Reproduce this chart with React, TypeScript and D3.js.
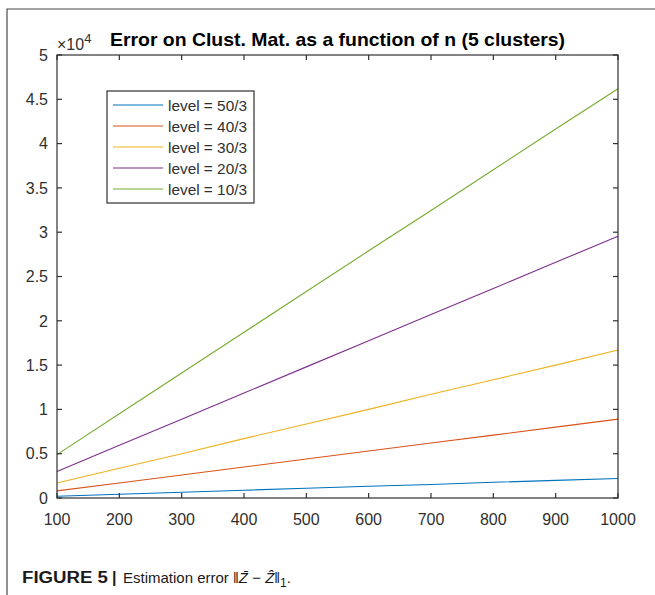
import React, { useEffect, useRef } from "react";
import * as d3 from "d3";

// n values (x axis)
const nValues = [100, 200, 300, 400, 500, 600, 700, 800, 900, 1000];

// error values (raw, axis shows x10^4)
const level50 = [200, 420, 650, 880, 1100, 1320, 1530, 1770, 1990, 2200];
const level40 = [800, 1700, 2600, 3500, 4400, 5300, 6200, 7100, 8000, 8900];
const level30 = [1700, 3350, 5000, 6700, 8350, 10000, 11700, 13350, 15000, 16700];
const level20 = [3000, 5950, 8900, 11850, 14800, 17750, 20700, 23650, 26600, 29550];
const level10 = [4900, 9500, 14100, 18700, 23300, 27900, 32450, 37050, 41650, 46200];

const seriesNames = ["level = 50/3", "level = 40/3", "level = 30/3", "level = 20/3", "level = 10/3"];
const seriesColors = ["#0072BD", "#D95319", "#EDB120", "#7E2F8E", "#77AC30"];
const seriesValues = [level50, level40, level30, level20, level10];

const yTicks = [0, 5000, 10000, 15000, 20000, 25000, 30000, 35000, 40000, 45000, 50000];

const W = 655;
const H = 595;
const axisColor = "#303030";
const font = "'Liberation Sans', Arial, Helvetica, sans-serif";

export default function App() {
  const ref = useRef<SVGSVGElement>(null);

  useEffect(() => {
    const svg = d3.select(ref.current);
    svg.selectAll("*").remove();

    const x = d3.scaleLinear().domain([100, 1000]).range([57, 618]);
    const y = d3.scaleLinear().domain([0, 50000]).range([498, 55]);

    // figure frame (top and left rule)
    svg.append("path")
      .attr("d", `M7,${H} V9 H${W}`)
      .attr("fill", "none")
      .attr("stroke", "#4a4a4a")
      .attr("stroke-width", 1.2);

    // title
    svg.append("text")
      .attr("x", 110)
      .attr("y", 46)
      .attr("font-family", font)
      .attr("font-weight", "bold")
      .attr("font-size", 19)
      .attr("textLength", 455)
      .attr("lengthAdjust", "spacingAndGlyphs")
      .attr("fill", "#000")
      .text("Error on Clust. Mat. as a function of n (5 clusters)");

    // exponent label
    const expo = svg.append("text")
      .attr("x", 57)
      .attr("y", 50)
      .attr("font-family", font)
      .attr("font-size", 16)
      .attr("fill", axisColor);
    expo.append("tspan").text("\u00d7");
    expo.append("tspan").text("10");
    expo.append("tspan").text("4").attr("dy", -7).attr("font-size", 13);

    // series lines
    const line = d3.line<number>()
      .x((_, i) => x(nValues[i]))
      .y((d) => y(d));

    svg.append("g")
      .selectAll("path")
      .data(seriesValues)
      .join("path")
      .attr("d", (d) => line(d))
      .attr("fill", "none")
      .attr("stroke", (_, i) => seriesColors[i])
      .attr("stroke-width", 1.1);

    // axes (box with inward ticks)
    const [x0, x1] = x.range();
    const [y0, y1] = y.range();
    svg.append("rect")
      .attr("x", x0)
      .attr("y", y1)
      .attr("width", x1 - x0)
      .attr("height", y0 - y1)
      .attr("fill", "none")
      .attr("stroke", axisColor)
      .attr("stroke-width", 1.2);

    const tickLen = 5;
    const ticks = svg.append("g").attr("stroke", axisColor).attr("stroke-width", 1.2);
    nValues.forEach((v) => {
      ticks.append("line").attr("x1", x(v)).attr("x2", x(v)).attr("y1", y0).attr("y2", y0 - tickLen);
      ticks.append("line").attr("x1", x(v)).attr("x2", x(v)).attr("y1", y1).attr("y2", y1 + tickLen);
    });
    yTicks.forEach((v) => {
      ticks.append("line").attr("x1", x0).attr("x2", x0 + tickLen).attr("y1", y(v)).attr("y2", y(v));
      ticks.append("line").attr("x1", x1).attr("x2", x1 - tickLen).attr("y1", y(v)).attr("y2", y(v));
    });

    svg.append("g")
      .attr("font-family", font)
      .attr("font-size", 16)
      .attr("fill", axisColor)
      .attr("text-anchor", "middle")
      .selectAll("text")
      .data(nValues)
      .join("text")
      .attr("x", (d) => x(d))
      .attr("y", 525)
      .text((d) => String(d));

    svg.append("g")
      .attr("font-family", font)
      .attr("font-size", 16)
      .attr("fill", axisColor)
      .attr("text-anchor", "end")
      .selectAll("text")
      .data(yTicks)
      .join("text")
      .attr("x", 48)
      .attr("y", (d) => y(d))
      .attr("dy", "0.36em")
      .text((d) => d3.format("~g")(d / 10000));

    // legend
    const legend = svg.append("g");
    legend.append("rect")
      .attr("x", 107)
      .attr("y", 91)
      .attr("width", 147)
      .attr("height", 112)
      .attr("fill", "#fff")
      .attr("stroke", axisColor)
      .attr("stroke-width", 1.2);
    const rowY = d3.scalePoint<number>().domain([0, 1, 2, 3, 4]).range([105, 189]);
    const rows = legend.selectAll("g.row")
      .data(seriesNames)
      .join("g")
      .attr("class", "row")
      .attr("transform", (_, i) => `translate(0,${rowY(i)})`);
    rows.append("line")
      .attr("x1", 113)
      .attr("x2", 163)
      .attr("stroke", (_, i) => seriesColors[i])
      .attr("stroke-width", 1.1);
    rows.append("text")
      .attr("x", 168)
      .attr("dy", "0.36em")
      .attr("font-family", font)
      .attr("font-size", 15.5)
      .attr("textLength", 79)
      .attr("lengthAdjust", "spacingAndGlyphs")
      .attr("fill", axisColor)
      .text((d) => d);

    // caption
    const cap = svg.append("text")
      .attr("y", 583)
      .attr("font-family", font)
      .attr("font-size", 15)
      .attr("fill", "#1a1a1a");
    cap.append("tspan")
      .attr("x", 22)
      .attr("font-weight", "bold")
      .attr("font-size", 16)
      .attr("textLength", 86)
      .attr("lengthAdjust", "spacingAndGlyphs")
      .text("FIGURE 5");
    cap.append("tspan").attr("font-weight", "bold").attr("font-size", 16).attr("x", 112).text("|");
    cap.append("tspan").attr("x", 123).text("Estimation error ");
    cap.append("tspan").attr("font-size", 14).text("\u2016");
    cap.append("tspan").attr("font-style", "italic").text("Z\u0304");
    cap.append("tspan").text(" \u2212 ");
    cap.append("tspan").attr("font-style", "italic").text("Z\u0302");
    cap.append("tspan").attr("font-size", 14).text("\u2016");
    cap.append("tspan").attr("dy", 4).attr("font-size", 12).text("1");
    cap.append("tspan").attr("dy", -4).text(".");
  }, []);

  return (
    <svg
      ref={ref}
      width={W}
      height={H}
      style={{ position: "absolute", left: 0, top: 0, background: "#fff" }}
    />
  );
}
